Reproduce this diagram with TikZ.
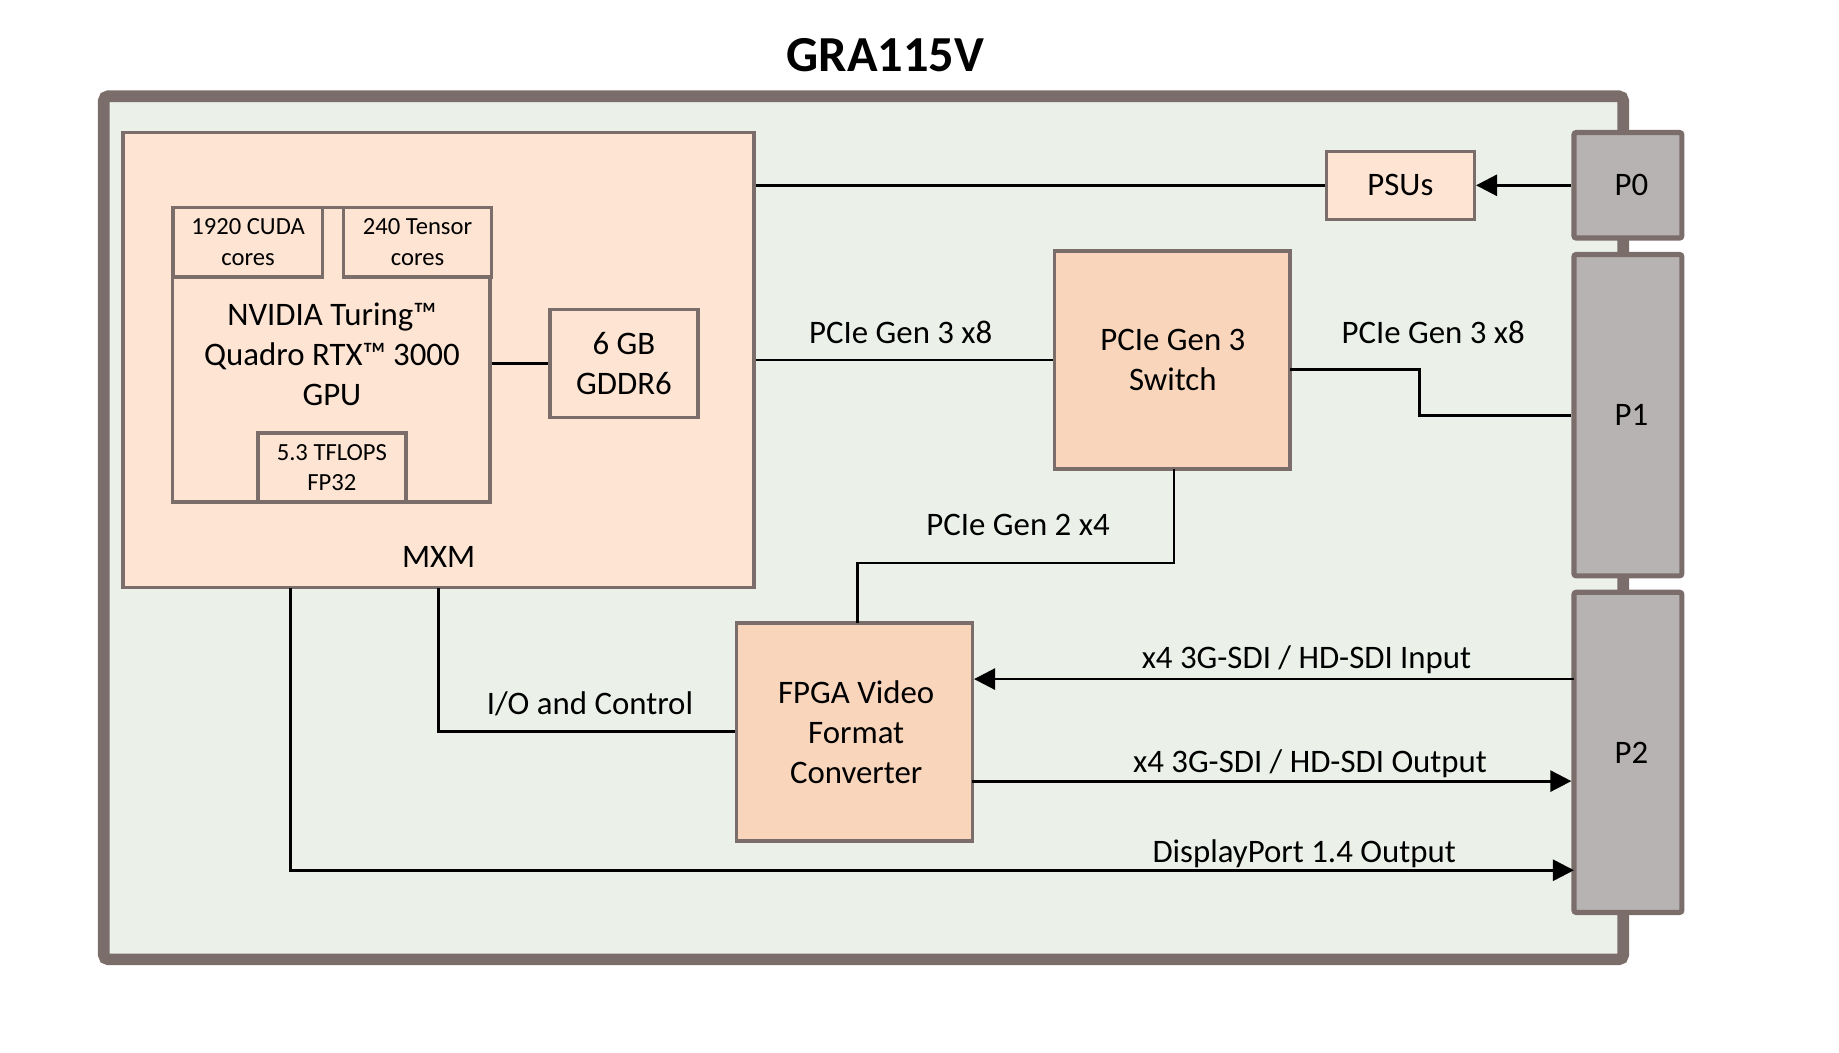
\documentclass[tikz,border=0pt]{standalone}
\usepackage{fontspec}
\setmainfont{Carlito}
\usetikzlibrary{fit,arrows.meta}
\definecolor{bordc}{HTML}{7B6D6A}
\definecolor{boardfill}{HTML}{EBF1E8}
\definecolor{mxmfill}{HTML}{FDE4D3}
\definecolor{chipfill}{HTML}{F9D5BB}
\definecolor{connfill}{HTML}{B7B3B2}
\newcommand\fsmain{\fontsize{14}{17}\selectfont}
\newcommand\fssmall{\fontsize{10.5}{13}\selectfont}
\begin{document}
\begin{tikzpicture}[x=0.5pt,y=-0.5pt,
  box/.style={draw=bordc,line width=1.5pt,fill=mxmfill,inner sep=0pt,align=center,font=\fsmain},
  smallbox/.style={box,font=\fssmall},
  chip/.style={box,fill=chipfill},
  conn/.style={draw=bordc,line width=2.2pt,fill=connfill,inner sep=0pt,rounded corners=1pt,font=\fsmain},
  wire/.style={line width=1.2pt,draw=black},
  arr/.style={wire,-{Triangle[length=9pt,width=9pt]}},
  lbl/.style={font=\fsmain,anchor=base,inner sep=0pt}]
\fill[white] (0,0) rectangle (1568,897);
\useasboundingbox (0,0) rectangle (1568,897);
% title
\node[font=\bfseries\fontsize{21.5}{24}\selectfont,anchor=base,inner sep=0pt] (title) at (755,61) {GRA115V};
% board
\node[draw=bordc,line width=5pt,fill=boardfill,rounded corners=2pt,inner sep=0pt,fit={(88.5,82)(1384,818)}] (board) {};
% MXM
\node[box,fit={(105,113)(643,501)}] (mxm) {};
\node[lbl] (mxmlbl) at (374,484) {MXM};
% GPU
\node[box,fit={(147,177)(418,428)}] (gpu) {};
\node[font=\fsmain,align=center,inner sep=0pt] (gputxt) at (283,302) {NVIDIA Turing™\\Quadro RTX™ 3000\\GPU};
\node[smallbox,fit={(148,177)(275,236)}] (cuda) {};
\node[font=\fssmall,align=center,inner sep=0pt] (cudatxt) at (cuda.center) {1920 CUDA\\cores};
\node[smallbox,fit={(293,177)(419,236)}] (tensor) {};
\node[font=\fssmall,align=center,inner sep=0pt] (tensortxt) at (tensor.center) {240 Tensor\\cores};
\node[smallbox,fit={(220,369)(346,428)}] (tflops) {};
\node[font=\fssmall,align=center,inner sep=0pt] (tflopstxt) at (tflops.center) {5.3 TFLOPS\\FP32};
% GDDR6
\node[box,fit={(469,264)(595,356)}] (gddr) {};
\node[font=\fsmain,align=center,inner sep=0pt] (gddrtxt) at (gddr.center) {6 GB\\GDDR6};
% PSUs
\node[box,fit={(1131,129)(1257,187)}] (psu) {};
\node[font=\fsmain,inner sep=0pt] (psutxt) at (psu.center) {PSUs};
% switch
\node[chip,fit={(899,214)(1100,400)}] (sw) {};
\node[font=\fsmain,align=center,inner sep=0pt] (swtxt) at (1000,307) {PCIe Gen 3\\Switch};
% FPGA
\node[chip,fit={(628,531)(829,717)}] (fpga) {};
\node[font=\fsmain,align=center,inner sep=0pt] (fpgatxt) at (730,624) {FPGA Video\\Format\\Converter};
% connectors
\node[conn,fit={(1342,113)(1434,203)}] (p0) {};
\node[font=\fsmain,inner sep=0pt] (p0txt) at (1391,158) {P0};
\node[conn,fit={(1342,217)(1434,491)}] (p1) {};
\node[font=\fsmain,inner sep=0pt] (p1txt) at (1391,354) {P1};
\node[conn,fit={(1342,505)(1434,778)}] (p2) {};
\node[font=\fsmain,inner sep=0pt] (p2txt) at (1391,642) {P2};
% helper coordinates
\coordinate (swout) at (1100,315);
\coordinate (swbend) at (1210,315);
\coordinate (swdown) at (1001,400);
\coordinate (swmid) at (1001,480);
\coordinate (fpgaup) at (731,480);
\coordinate (fpgatop) at (731,531);
\coordinate (ioa) at (374,501);
\coordinate (dpa) at (248,501);
\coordinate (inp) at (1342,579);
\coordinate (outp) at (829,666);
\coordinate (dpend) at (1342,742);
% wires
\draw[wire] (gddr.west) -- (gddr.west -| gpu.east);
\draw[wire] (psu.west) -- (psu.west -| mxm.east);
\draw[arr] (p0.west) -- (psu.east);
\draw[wire] (mxm.east |- sw.west) -- (sw.west);
\draw[wire] (swout) -- (swbend) |- (p1.west);
\draw[wire] (swdown) -- (swmid) -- (fpgaup) -- (fpgatop);
\draw[wire] (ioa) |- (fpga.west);
\draw[arr] (inp) -- (inp -| fpga.east);
\draw[arr] (outp) -- (outp -| p2.west);
\draw[arr] (dpa) |- (dpend);
% labels
\node[lbl] (l1) at (768,293) {PCIe Gen 3 x8};
\node[lbl] (l2) at (1222,293) {PCIe Gen 3 x8};
\node[lbl] (l3) at (868,457) {PCIe Gen 2 x4};
\node[lbl] (l4) at (503,609) {I/O and Control};
\node[lbl] (l5) at (1114,570) {x4 3G-SDI / HD-SDI Input};
\node[lbl] (l6) at (1117,659) {x4 3G-SDI / HD-SDI Output};
\node[lbl] (l7) at (1112,735) {DisplayPort 1.4 Output};
\end{tikzpicture}
\end{document}
